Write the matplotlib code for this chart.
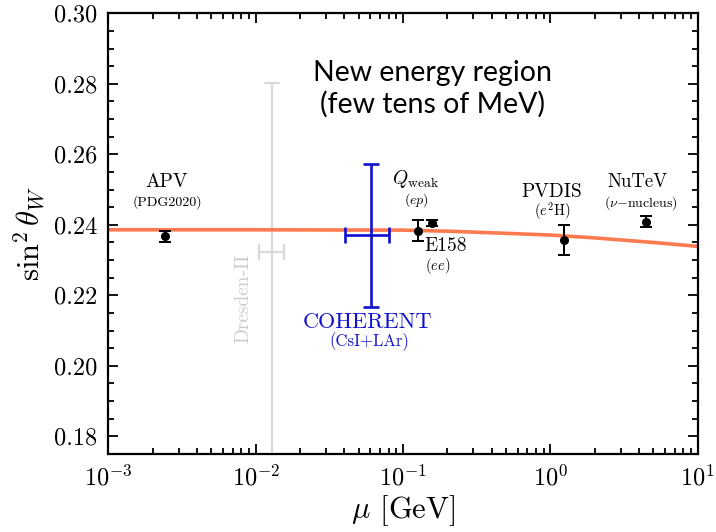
import numpy as np
import matplotlib
matplotlib.use('Agg')
import matplotlib.pyplot as plt
from matplotlib.ticker import FuncFormatter, MultipleLocator, LogLocator

plt.rcParams['font.family'] = 'serif'
plt.rcParams['font.serif'] = ['cmr10']
plt.rcParams['mathtext.fontset'] = 'cm'
plt.rcParams['axes.formatter.use_mathtext'] = True

# running weak mixing angle
mu_run = [1e-3, 1e-2, 0.1, 0.2, 0.5, 1.0, 2.0, 5.0, 10.0]
s2w_run = [0.2386, 0.2386, 0.2385, 0.2382, 0.2376, 0.2371, 0.2363, 0.2350, 0.2339]

# black measurements: APV, E158, Qweak, PVDIS, NuTeV
mu_pts = [0.00242, 0.127, 0.157, 1.245, 4.46]
s2w_pts = [0.2367, 0.2383, 0.2405, 0.2357, 0.2409]
s2w_err = [0.0016, 0.0030, 0.0009, 0.0042, 0.0016]

# COHERENT (CsI+LAr)
coh_mu = 0.0607
coh_mu_lo, coh_mu_hi = 0.0404, 0.0807
coh_s2w = 0.2370
coh_err = 0.0202

# Dresden-II
dr_mu = 0.0130
dr_mu_lo, dr_mu_hi = 0.01052, 0.01556
dr_s2w = 0.2322
dr_err_up = 0.048
dr_err_dn = 0.080

fig = plt.figure(figsize=(7.16, 5.32), dpi=100)
ax = fig.add_axes([0.1514, 0.1466, 0.8229, 0.8284])

ax.errorbar([dr_mu], [dr_s2w], yerr=[[dr_err_dn], [dr_err_up]],
            xerr=[[dr_mu - dr_mu_lo], [dr_mu_hi - dr_mu]],
            fmt='none', ecolor='#d9d9d9', elinewidth=1.6, capsize=6, capthick=1.6, zorder=1)

ax.plot(mu_run, s2w_run, color='#ff7b4f', lw=2.6, zorder=2)

ax.errorbar([coh_mu], [coh_s2w], yerr=coh_err,
            xerr=[[coh_mu - coh_mu_lo], [coh_mu_hi - coh_mu]],
            fmt='none', ecolor='#1010d0', elinewidth=1.9, capsize=5.5, capthick=1.9, zorder=3)

ax.errorbar(mu_pts, s2w_pts, yerr=s2w_err, fmt='o', color='black', ms=5.5,
            elinewidth=1.4, capsize=4.5, capthick=1.4, zorder=4)

# labels
ax.text(0.0025, 0.2521, r'APV', fontsize=14, ha='center', va='center')
ax.text(0.0025, 0.2465, r'(PDG2020)', fontsize=10, ha='center', va='center')
ax.text(0.122, 0.2530, r'$Q_{\rm weak}$', fontsize=14, ha='center', va='center')
ax.text(0.124, 0.2470, r'$(ep)$', fontsize=10, ha='center', va='center')
ax.text(0.196, 0.2340, r'E158', fontsize=14, ha='center', va='center')
ax.text(0.173, 0.2283, r'$(ee)$', fontsize=10.5, ha='center', va='center')
ax.text(1.03, 0.2494, r'PVDIS', fontsize=14, ha='center', va='center')
ax.text(1.03, 0.2440, r'$(e^2\mathrm{H})$', fontsize=10.5, ha='center', va='center')
ax.text(3.94, 0.2521, r'NuTeV', fontsize=13.5, ha='center', va='center')
ax.text(4.1, 0.2463, r'$(\nu\mathrm{-nucleus})$', fontsize=10, ha='center', va='center')
ax.text(0.0574, 0.2124, r'COHERENT', fontsize=16, color='#1010d0', ha='center', va='center')
ax.text(0.0590, 0.2070, r'(CsI+LAr)', fontsize=12, color='#1010d0', ha='center', va='center')
ax.text(0.0082, 0.2192, r'Dresden-II', fontsize=14, color='#cccccc', rotation=90,
        ha='center', va='center')
ax.text(0.159, 0.2785, 'New energy region\n(few tens of MeV)', family='Lato',
        fontsize=20.5, ha='center', va='center', linespacing=1.2)

ax.set_xscale('log')
ax.set_xlim(1e-3, 1e1)
ax.set_ylim(0.175, 0.30)
ax.yaxis.set_major_locator(MultipleLocator(0.02))
ax.yaxis.set_minor_locator(MultipleLocator(0.005))
ax.yaxis.set_major_formatter(FuncFormatter(lambda v, p: '%.2f' % v))
ax.xaxis.set_major_locator(LogLocator(base=10, numticks=10))
ax.xaxis.set_minor_locator(LogLocator(base=10, subs=np.arange(2, 10), numticks=20))

ax.tick_params(which='both', direction='in', top=True, right=True, labelsize=17.5, width=1.3)
ax.tick_params(which='major', length=7, pad=8)
ax.tick_params(which='minor', length=4)
for s in ax.spines.values():
    s.set_linewidth(1.6)

ax.set_xlabel(r'$\mu$ [GeV]', fontsize=22, labelpad=2)
ax.set_ylabel(r'$\sin^2\theta_W$', fontsize=22, labelpad=4)

plt.savefig('out.png', dpi=100)
